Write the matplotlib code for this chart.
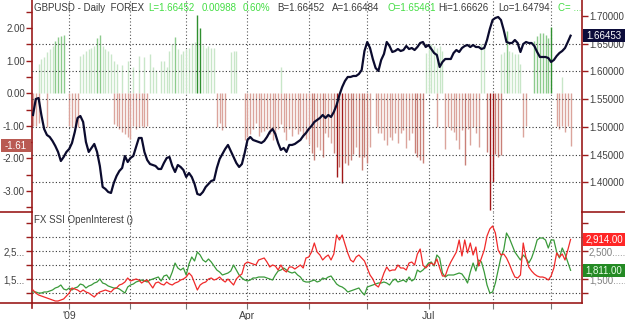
import matplotlib
matplotlib.use("Agg")
import matplotlib.pyplot as plt
from matplotlib.patches import Rectangle
from matplotlib.lines import Line2D
import numpy as np
import pandas as pd

plt.rcParams['font.family'] = ['Liberation Sans', 'DejaVu Sans']

# trading days shown on the chart
dates = pd.bdate_range("2008-12-15", "2009-09-10")

# GBPUSD daily close (right axis)
price = [
    1.5216, 1.5504, 1.5522, 1.5216, 1.4964, 1.4856, 1.4820, 1.4748, 1.4658, 1.4550,
    1.4387, 1.4459, 1.4550, 1.4604, 1.4712, 1.4910, 1.5162, 1.5198, 1.5090, 1.4730,
    1.4550, 1.4622, 1.4694, 1.4550, 1.4297, 1.3919, 1.3883, 1.3829, 1.3811, 1.3991,
    1.4117, 1.4207, 1.4261, 1.4477, 1.4369, 1.4441, 1.4477, 1.4640, 1.4802, 1.4802,
    1.4550, 1.4405, 1.4333, 1.4315, 1.4297, 1.4243, 1.4243, 1.4351, 1.4441, 1.4459,
    1.4297, 1.4189, 1.4315, 1.4279, 1.4225, 1.4099, 1.4171, 1.4099, 1.3973, 1.3793,
    1.3775, 1.3829, 1.3919, 1.3973, 1.4027, 1.4045, 1.4261, 1.4423, 1.4513, 1.4604,
    1.4676, 1.4568, 1.4459, 1.4351, 1.4279, 1.4333, 1.4532, 1.4766, 1.4820, 1.4766,
    1.4748, 1.4730, 1.4712, 1.4748, 1.4820, 1.4910, 1.4964, 1.4874, 1.4712, 1.4586,
    1.4622, 1.4550, 1.4676, 1.4676, 1.4694, 1.4730, 1.4766, 1.4838, 1.4892, 1.4964,
    1.5018, 1.5090, 1.5126, 1.5162, 1.5216, 1.5162, 1.5216, 1.5180, 1.5270, 1.5396,
    1.5576, 1.5720, 1.5829, 1.5901, 1.5901, 1.5919, 1.5919, 1.5955, 1.6027, 1.6369,
    1.6531, 1.6423, 1.6225, 1.6063, 1.6009, 1.6207, 1.6315, 1.6531, 1.6459, 1.6351,
    1.6369, 1.6405, 1.6369, 1.6387, 1.6459, 1.6405, 1.6423, 1.6387, 1.6441, 1.6513,
    1.6531, 1.6441, 1.6477, 1.6405, 1.6333, 1.6297, 1.6081, 1.6171, 1.6225, 1.6225,
    1.6225, 1.6333, 1.6387, 1.6351, 1.6423, 1.6459, 1.6477, 1.6441, 1.6477, 1.6441,
    1.6441, 1.6405, 1.6423, 1.6567, 1.6765, 1.6928, 1.6964, 1.6982, 1.6928, 1.6747,
    1.6531, 1.6513, 1.6513, 1.6567, 1.6513, 1.6351, 1.6495, 1.6531, 1.6513, 1.6513,
    1.6459, 1.6351, 1.6261, 1.6261, 1.6261, 1.6243, 1.6171, 1.6207, 1.6279, 1.6333,
    1.6369, 1.6423, 1.6531, 1.6645,
]

# SSI histogram, positive (green) and negative (red) bars, 0 = no bar
ssi_up = [
    0, 0, 0.9, 1.05, 1.1, 1.25, 1.35, 1.45, 1.6, 1.72,
    1.75, 1.8, 0, 0, 0, 0, 0, 1.15, 1.2, 1.3,
    1.35, 1.4, 1.45, 1.7, 1.78, 1.45, 1.35, 1.3, 1.2, 1.0,
    0.9, 0, 0.85, 0, 1.0, 0, 0.8, 0, 1.15, 0,
    1.1, 0, 1.2, 0.8, 0.7, 0, 1.0, 1.0, 0.8, 1.3,
    1.5, 1.73, 1.35, 1.2, 1.3, 1.35, 1.4, 1.55, 1.57, 2.4,
    2.0, 1.48, 1.4, 1.45, 1.4, 1.4, 0, 0, 0, 0,
    0, 1.25, 1.3, 1.3, 0, 0, 0, 0, 0, 0,
    0, 0, 0, 0, 0, 0, 0, 0, 0, 0.8,
    0, 0, 0, 0, 0, 0, 0, 0, 0, 0,
    0, 0, 0, 0, 0, 0, 0, 0, 0, 0,
    0, 0, 0, 0, 0, 0, 0, 0, 0, 0,
    0, 0, 0, 0, 0, 0, 0, 0, 0, 0,
    0, 0, 0, 0, 0, 0, 0, 0, 0, 0,
    0, 1.23, 1.4, 1.5, 1.45, 1.4, 1.45, 1.3, 0, 0,
    0, 0, 0, 0, 0, 0, 0, 0, 0, 0,
    0, 1.5, 1.45, 0, 0, 0, 0, 0, 1.2, 1.25,
    1.9, 1.3, 1.25, 1.2, 1.2, 0.9, 0, 0, 0, 0,
    1.6, 1.75, 1.84, 1.84, 1.8, 1.7, 2.03, 0, 0, 0,
    0.5, 0, 0, 0,
]
ssi_down = [
    -1.0, -1.0, -0.9, 0, 0, -1.05, 0, 0, 0, 0,
    0, 0, 0, -1.0, -1.05, -1.0, -1.05, 0, 0, 0,
    0, 0, 0, 0, 0, 0, 0, 0, 0, -0.95,
    -1.0, -1.1, -1.2, -1.25, -1.35, -1.4, -1.0, -1.1, -1.05, -1.0,
    -1.05, -1.0, 0, 0, 0, 0, 0, 0, 0, 0,
    0, 0, 0, 0, 0, 0, 0, 0, 0, 0,
    0, 0, 0, 0, 0, 0, -1.03, -0.9, -1.13, -1.05,
    0, 0, 0, 0, 0, 0, -1.44, -1.35, -1.25, -1.1,
    -0.9, -1.3, -1.2, -1.15, -1.1, -1.25, -1.43, -1.25, -1.1, -0.95,
    -1.2, -1.43, -1.1, -1.3, -1.1, -1.25, -1.15, -1.35, -1.4, -1.55,
    -1.84, -2.05, -1.64, -1.74, -1.95, -1.23, -1.35, -1.54, -1.84, -2.56,
    -2.26, -2.76, -2.14, -2.2, -2.05, -1.85, -1.65, -1.95, -2.36, -1.95,
    -2.14, -1.64, 0, -1.0, -1.23, -1.22, -1.43, -1.59, -1.33, -1.43,
    -1.22, -1.54, -1.22, -1.13, -1.69, -1.43, -1.22, -1.84, -1.95, -2.05,
    -2.15, 0, 0, 0, 0, -1.03, 0, 0, -1.7, -1.03,
    -1.13, -1.2, -1.43, -1.7, -1.13, -2.2, -1.1, -1.59, -1.03, -1.22,
    -1.64, 0, 0, -1.8, -3.58, -2.72, -1.85, -1.95, -1.9, 0,
    0, 0, 0, 0, 0, 0, -1.34, -1.0, 0, 0,
    0, 0, 0, 0, 0, 0, 0, 0, -1.0, -1.1,
    -1.0, -1.19, -1.0, -1.61,
]

# FX SSI open interest (lower panel)
oi_short = [
    1107, 1000, 929, 893, 857, 821, 786, 750, 714, 714,
    750, 786, 893, 1000, 1179, 1143, 1107, 1036, 1107, 1036,
    1000, 929, 857, 964, 1036, 1071, 1107, 1071, 1036, 1143,
    1179, 1286, 1321, 1393, 1536, 1429, 1464, 1500, 1464, 1357,
    1429, 1464, 1321, 1179, 1357, 1393, 1321, 1286, 1393, 1321,
    1286, 1357, 1393, 1464, 1500, 1571, 1714, 1607, 1357, 1107,
    1286, 1357, 1393, 1500, 1536, 1464, 1500, 1571, 1464, 1393,
    1500, 1393, 1286, 1500, 1607, 1679, 2036, 2107, 2071, 2036,
    2000, 2179, 2214, 2250, 2107, 1929, 2000, 1964, 1821, 2000,
    1821, 1750, 1929, 1929, 1857, 1929, 2000, 1893, 2250, 2286,
    2464, 2786, 2464, 2357, 2179, 2286, 2357, 2179, 2393, 3071,
    2893, 3071, 2750, 2429, 2179, 2107, 2286, 2357, 2250, 2143,
    1893, 1643, 1500, 1286, 1214, 1429, 1714, 1929, 1786, 1821,
    1821, 2000, 1893, 1893, 1821, 2071, 2107, 2000, 2393, 2571,
    2000, 1893, 2000, 2071, 2000, 2214, 1893, 1607, 1607, 1893,
    2107, 2286, 2464, 2893, 2321, 2893, 2429, 2786, 2357, 2643,
    1964, 2250, 2536, 3036, 3286, 3393, 3143, 2536, 2357, 2393,
    2250, 2036, 1786, 1571, 1536, 1643, 2786, 2250, 1929, 1786,
    1679, 1607, 1571, 1571, 1536, 1464, 1607, 1893, 2429, 2286,
    2393, 2179, 2536, 2914,
]
oi_long = [
    1036, 1036, 1000, 1000, 1036, 1036, 1071, 1107, 1179, 1214,
    1286, 1143, 1107, 1179, 1107, 1179, 1214, 1321, 1286, 1179,
    1250, 1286, 1357, 1393, 1500, 1357, 1321, 1250, 1214, 1179,
    1179, 1143, 1071, 1000, 1214, 1286, 1321, 1393, 1429, 1464,
    1429, 1393, 1464, 1500, 1536, 1571, 1429, 1607, 1643, 1500,
    1750, 2071, 1893, 1821, 1893, 1643, 2036, 2286, 2143, 2464,
    2357, 2179, 2107, 2214, 2107, 1964, 1821, 1750, 1643, 1679,
    1714, 1786, 2000, 1821, 1643, 1536, 1464, 1429, 1464, 1536,
    1536, 1571, 1571, 1571, 1536, 1500, 1464, 1643, 1786, 1821,
    1893, 1821, 1750, 1714, 1750, 1643, 1571, 1429, 1393, 1393,
    1429, 1464, 1393, 1429, 1536, 1500, 1571, 1607, 1464, 1321,
    1250, 1214, 1143, 1036, 1071, 1107, 1143, 1179, 1036, 929,
    1214, 1250, 1286, 1321, 1357, 1357, 1393, 1357, 1286, 1429,
    1500, 1393, 1429, 1464, 1393, 1571, 1429, 1500, 1821, 1750,
    1821, 1929, 2071, 2107, 1964, 2357, 2250, 1714, 1571, 1643,
    1643, 1643, 1679, 1714, 1679, 1536, 1357, 1750, 2071, 1786,
    2179, 2107, 1750, 1286, 1000, 1036, 1357, 1821, 2286, 2536,
    3143, 2964, 2714, 2464, 2321, 2179, 2357, 2250, 2071, 2250,
    2536, 2893, 2964, 2964, 2893, 2607, 2893, 2893, 2464, 2250,
    2607, 2393, 2107, 1811,
]

last_price = 1.66453
last_ssi = -1.61
last_short = 2914.00
last_long = 1811.00

header = [
    ("GBPUSD - Daily  FOREX", 34, "#3a3a3a"),
    ("L=1.66452", 148, "#44dd44"),
    ("0.00988", 202, "#44dd44"),
    ("0.60%", 243, "#44dd44"),
    ("B=1.66452", 277, "#3a3a3a"),
    ("A=1.66484", 332, "#3a3a3a"),
    ("O=1.65461", 387, "#44dd44"),
    ("Hi=1.66626", 438, "#3a3a3a"),
    ("Lo=1.64794", 498, "#3a3a3a"),
    ("C= ...", 558, "#44dd44"),
]

W, H = 625, 320
SPINE = "#9b1b1b"
TXT = "#404040"
DOT = (0, (1, 2))


def fx(p):
    return p / W


def fy(p):
    return 1 - p / H


fig = plt.figure(figsize=(6.25, 3.2), dpi=100)
fig.patch.set_facecolor("white")
ax = fig.add_axes([fx(32), fy(212), 550 / W, 212 / H])
axp = ax.twinx()
axb = fig.add_axes([fx(32), fy(303), 550 / W, 91 / H])
axb2 = axb.twinx()

n = len(dates)
x = np.arange(n)
for a in (ax, axp, axb, axb2):
    a.set_xlim(-0.36, 197.1)
    a.set_facecolor("none")
ax.set_ylim(-3.644, 2.859)
axp.set_ylim(1.3468, 1.7288)
axb.set_ylim(643, 3893)
axb2.set_ylim(643, 3893)

# month boundaries
months = dates.month.values
month_idx = [i for i in range(1, n) if months[i] != months[i - 1]]
label_map = {1: "'09", 4: "Apr", 7: "Jul"}

for m in month_idx:
    ax.axvline(m, color="#555555", lw=0.8, ls=DOT, zorder=1)
    axb.axvline(m, color="#555555", lw=0.8, ls=DOT, zorder=1)

# price grid
for lv in [1.40, 1.45, 1.50, 1.55, 1.60, 1.65]:
    axp.axhline(lv, color="#333333", lw=0.8, ls=DOT, zorder=1)
for lv in [1000, 1500, 2000, 2500, 3000]:
    axb.axhline(lv, color="#333333", lw=0.8, ls=DOT, zorder=1)

# SSI bars
up = np.array(ssi_up)
dn = np.array(ssi_down)
gi = np.nonzero(up)[0]
ri = np.nonzero(dn)[0]
gcol = ["#2f8f2f" if v >= 1.95 else ("#8ccb8c" if v >= 1.6 else "#c8e6c8") for v in up[gi]]
rcol = ["#a01818" if v <= -2.5 else ("#c98078" if v <= -1.8 else "#dba49c") for v in dn[ri]]
ax.vlines(x[gi], 0, up[gi], colors=gcol, lw=1.0, zorder=2)
ax.vlines(x[ri], 0, dn[ri], colors=rcol, lw=1.0, zorder=2)

# price line
axp.plot(x, price, color="#0b0b2e", lw=1.6, zorder=5, solid_joinstyle="round")

# open interest lines
axb.plot(x, oi_long, color="#3a9a3a", lw=0.9, zorder=3)
axb.plot(x, oi_short, color="#f02a2a", lw=0.9, zorder=4)

# spines
for a in (ax, axp, axb, axb2):
    for s in a.spines.values():
        s.set_visible(False)
for a, s in ((ax, "left"), (axp, "right"), (axb, "left"), (axb, "bottom"), (axb2, "right")):
    a.spines[s].set_visible(True)
    a.spines[s].set_color(SPINE)
    a.spines[s].set_linewidth(1.2)

# ticks
ax.set_xticks([])
axp.set_xticks([])
axb2.set_xticks([])
ax.set_yticks([-3, -2, -1, 0, 1, 2], ["-3.00", "-2.00", "-1.00", "0.00", "1.00", "2.00"])
ax.set_yticks(np.arange(-3.5, 2.6, 0.5), minor=True)
pt = [1.40, 1.45, 1.50, 1.55, 1.60, 1.65, 1.70]
axp.set_yticks(pt, ["%.5f" % v for v in pt])
axb.set_yticks([1500, 2500], ["1,5...", "2,5..."])
axb.set_yticks([1000, 2000, 3000, 3500], minor=True)
axb2.set_yticks([1500, 2500], ["1,500.....", "2,500....."])
axb2.set_yticks([1000, 2000, 3000, 3500], minor=True)

maj = [m for m in month_idx if months[m] in label_map]
axb.set_xticks(maj, [label_map[months[m]] for m in maj])
axb.set_xticks([m for m in month_idx if m not in maj], minor=True)

for a in (ax, axp, axb, axb2):
    a.tick_params(axis="y", which="both", direction="out", length=4, width=1,
                  color=SPINE, labelcolor=TXT, labelsize=7, pad=1)
axb.tick_params(axis="x", which="both", direction="out", length=4, width=0.8,
                color="#777777", labelcolor=TXT, labelsize=7.5, pad=2)
axb2.tick_params(axis="y", labelcolor="#808080")

# separator lines outside the plot area
for xs, ys in (([0, fx(32)], [fy(212)] * 2), ([fx(582), 1], [fy(212)] * 2),
               ([0, fx(32)], [fy(303)] * 2), ([fx(32)] * 2, [fy(303), fy(308)])):
    fig.add_artist(Line2D(xs, ys, color=SPINE, lw=1.2, transform=fig.transFigure))


def value_box(a, val, x0, x1, face, text, tc):
    yd = a.transData.transform((0, val))[1]
    yf = fig.transFigure.inverted().transform((0, yd))[1]
    fig.add_artist(Rectangle((fx(x0), yf - 6.5 / H), (x1 - x0) / W, 13 / H,
                             transform=fig.transFigure, facecolor=face,
                             edgecolor="none", zorder=10))
    fig.text(fx((x0 + x1) / 2), yf, text, color=tc, ha="center", va="center",
             fontsize=7, zorder=11)


value_box(axp, last_price, 583, 625, "#0c0c3a", "%.5f" % last_price, "white")
value_box(ax, last_ssi, 1, 31, "#b95a52", "%.2f" % last_ssi, "white")
value_box(axb2, last_short, 583, 625, "#ff2626", "{:,.2f}".format(last_short), "white")
value_box(axb2, last_long, 583, 625, "#248a24", "{:,.2f}".format(last_long), "#e8ffe8")

# header and panel caption
for s, px, c in header:
    fig.text(fx(px), fy(8), s, color=c, fontsize=7, ha="left", va="center")
fig.text(fx(34), fy(220), "FX SSI OpenInterest ()", color=TXT, fontsize=7,
         ha="left", va="center")

fig.savefig("out.png", dpi=100)
